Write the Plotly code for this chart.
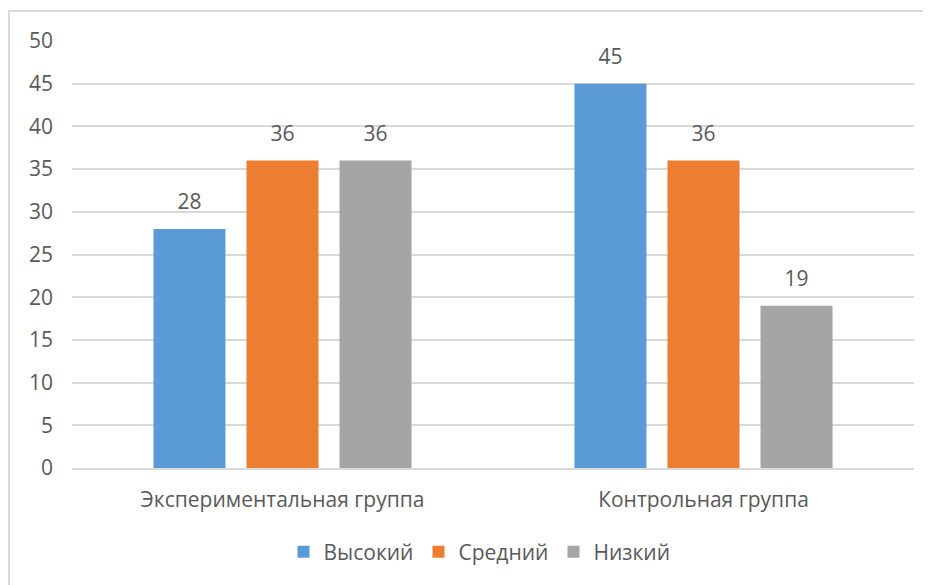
import plotly.graph_objects as go

categories = ["Экспериментальная группа", "Контрольная группа"]
series_names = ["Высокий", "Средний", "Низкий"]
vysokiy = [28, 45]
sredniy = [36, 36]
nizkiy = [36, 19]
y_ticks = [0, 5, 10, 15, 20, 25, 30, 35, 40, 45, 50]

colors = ["#5B9BD5", "#ED7D31", "#A5A5A5"]
series_values = [vysokiy, sredniy, nizkiy]
FONT = "Open Sans, Noto Sans, sans-serif"
TXT = "#595959"
FS = 21

fig = go.Figure()
for i, (name, vals) in enumerate(zip(series_names, series_values)):
    fig.add_trace(go.Bar(
        x=categories, y=vals, name=name, marker_color=colors[i],
        marker_line_width=0, offsetgroup=str(i), hoverinfo="skip",
    ))
for i, vals in enumerate(series_values):
    fig.add_trace(go.Scatter(
        x=categories, y=vals, mode="markers+text", text=[str(v) for v in vals],
        textposition="top center", offsetgroup=str(i), showlegend=False,
        marker=dict(size=22, color="rgba(0,0,0,0)"),
        textfont=dict(family=FONT, size=FS, color=TXT), cliponaxis=False,
        hoverinfo="skip",
    ))

W, H = 931, 585
OFF = 8  # page margin in screenshot
L, T = 72 - OFF, 41 - OFF
R = W - (914 - OFF)
B = H - (468 - OFF)
pw, ph = W - L - R, H - T - B
ybase = H - B

fig.update_layout(
    width=W, height=H,
    margin=dict(l=L, r=R, t=T, b=B),
    paper_bgcolor="white", plot_bgcolor="white",
    barmode="group", bargap=0.337, bargroupgap=0.226,
    scattermode="group", scattergap=0.337,
    font=dict(family=FONT, size=FS, color=TXT),
    legend=dict(orientation="h", x=(486 - OFF - L) / pw, xanchor="center",
                y=-(552 - OFF - ybase) / ph, yanchor="middle",
                font=dict(family=FONT, size=FS, color=TXT),
                itemwidth=30, traceorder="normal",
                entrywidth=90, entrywidthmode="pixels"),
    xaxis=dict(showgrid=False, showline=True, linecolor="#D9D9D9", linewidth=1.5,
               ticks="", ticklabelstandoff=12, tickfont=dict(size=FS, color=TXT)),
    yaxis=dict(range=[0, 50], tickvals=y_ticks, showgrid=True, gridcolor="#D9D9D9",
               gridwidth=1.5, zeroline=False, showline=False, ticks="",
               ticklabelstandoff=18, tickfont=dict(size=FS, color=TXT)),
    shapes=[
        dict(type="line", xref="paper", yref="paper",
             x0=(0 - L) / pw, x1=(W + 20 - L) / pw,
             y0=1 + (T - 3) / ph, y1=1 + (T - 3) / ph,
             line=dict(color="#D9D9D9", width=2)),
        dict(type="line", xref="paper", yref="paper",
             x0=(1 - L) / pw, x1=(1 - L) / pw,
             y0=1 + (T - 3) / ph, y1=-(H + 20 - ybase) / ph,
             line=dict(color="#D9D9D9", width=2)),
    ],
)

fig.write_html("out.html")
